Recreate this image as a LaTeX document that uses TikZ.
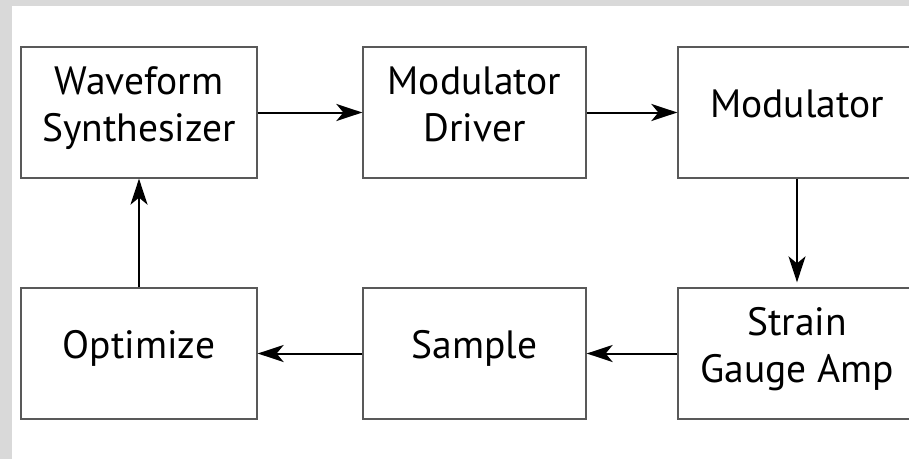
\documentclass[tikz,border=0pt]{standalone}
\usepackage{fontspec}
\setmainfont{PT Sans}
\usetikzlibrary{arrows.meta}

% text of a block, lifted a little above the box centre
\newcommand{\blocktext}[1]{\raisebox{4pt}[\height][\depth]{\begin{tabular}{@{}c@{}}#1\end{tabular}}}

\begin{document}
\begin{tikzpicture}[x=1pt, y=1pt,
    block/.style={draw=black!65, line width=1.3pt, fill=white,
        minimum height=131pt, inner sep=0pt,
        font=\fontsize{39.5}{47}\selectfont},
    flow/.style={line width=2pt, -{Stealth[length=26pt, width=17pt, inset=7pt]}}]

    % --- Background and panel ---
    \fill[black!15] (0,0) rectangle (909,459);
    \fill[white] (12,0) rectangle (909,453);
    \useasboundingbox (0,0) rectangle (909,459);

    % --- Top row ---
    \node[block, minimum width=236pt] (wave) at (139,346.5) {\blocktext{Waveform\\Synthesizer}};
    \node[block, minimum width=223pt] (drv) at (474.5,346.5) {\blocktext{Modulator\\Driver}};
    \node[block, minimum width=238pt] (mod) at (797,346.5) {\blocktext{Modulator}};

    % --- Bottom row ---
    \node[block, minimum width=236pt] (opt) at (139,105.5) {\blocktext{Optimize}};
    \node[block, minimum width=223pt] (smp) at (474.5,105.5) {\blocktext{Sample}};
    \node[block, minimum width=238pt] (amp) at (797,105.5) {\blocktext{Strain\\Gauge Amp}};

    % --- Signal path ---
    \draw[flow] (wave) -- (drv);
    \draw[flow] (drv) -- (mod);
    \draw[flow, shorten >=5pt] (mod) -- (amp);
    \draw[flow] (amp) -- (smp);
    \draw[flow] (smp) -- (opt);
    \draw[flow] (opt) -- (wave);

\end{tikzpicture}
\end{document}
